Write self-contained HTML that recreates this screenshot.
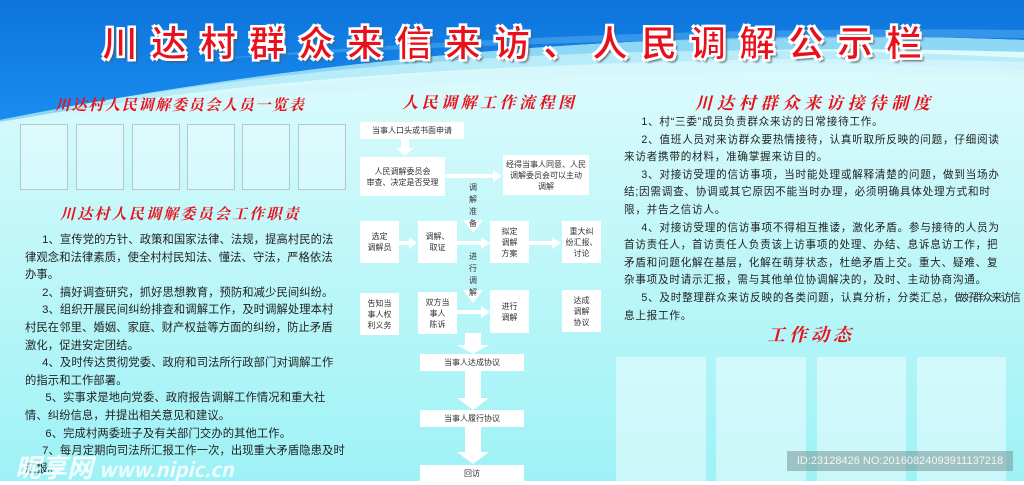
<!DOCTYPE html>
<html><head><meta charset="utf-8"><style>
*{margin:0;padding:0;box-sizing:border-box}
body{width:1024px;height:481px;overflow:hidden;position:relative;font-family:"Liberation Sans","Noto Sans CJK SC",sans-serif;}
.abs{position:absolute}
.title{left:0;top:15px;width:1024px;text-align:center;font-size:36px;font-weight:bold;color:#e8101a;letter-spacing:13px;padding-left:13px;-webkit-text-stroke:1px #fff;text-shadow:2px 2px 0 #fff,-2px -2px 0 #fff,2px -2px 0 #fff,-2px 2px 0 #fff,3px 3px 2px #555;font-family:"Noto Sans CJK SC",sans-serif;}
.h{color:#e8101a;font-family:"Noto Serif CJK SC",serif;font-weight:bold;font-style:italic;white-space:nowrap}
.photo{top:124px;width:48px;height:66px;border:1px solid #b7c6cd;background:rgba(255,255,255,0.25)}
.lt{left:25px;font-size:11.3px;color:#222;white-space:nowrap;line-height:17.6px;letter-spacing:0.1px}
.rt{left:624px;font-size:10.6px;color:#222;white-space:nowrap;line-height:17.6px;letter-spacing:0.75px}
.b{background:#fff;font-size:8px;color:#333;text-align:center;display:flex;align-items:center;justify-content:center;line-height:11px}
.v{font-size:8px;color:#333;width:10px;line-height:12px;text-align:center}
.dyn{top:357px;height:124px;background:rgba(255,255,255,0.45)}
</style></head><body>
<svg class="abs" style="left:0;top:0" width="1024" height="481">
<defs>
<linearGradient id="bg" x1="0" y1="0" x2="0" y2="1"><stop offset="0" stop-color="#e6fcfd"/><stop offset="0.4" stop-color="#c8f8fa"/><stop offset="1" stop-color="#9ef2f6"/></linearGradient>
<linearGradient id="bl" x1="0" y1="0" x2="0" y2="1"><stop offset="0" stop-color="#0d74dc"/><stop offset="1" stop-color="#1a8cf0"/></linearGradient>
</defs>
<rect width="1024" height="481" fill="url(#bg)"/>
<path d="M0 0H1024V40 Q500 20 0 120Z" fill="url(#bl)"/>
<path d="M0 120 Q500 20 1024 40 V52 Q500 35 0 122Z" fill="#8fd8f5"/>
<path d="M60 108 Q500 30 1024 58 V70 Q500 45 80 108Z" fill="#b8ecf8"/>
<path d="M0 122 Q500 45 1024 62 V78 Q600 55 0 125Z" fill="#d5f6fb" opacity="0.8"/>
<path d="M200 60 Q600 25 1024 30 V38 Q600 35 200 60Z" fill="#4ea8ee" opacity="0.6"/>
</svg>
<div class="abs title">川达村群众来信来访、人民调解公示栏</div>

<div class="abs h" style="left:55px;top:94px;font-size:15px;letter-spacing:1.7px">川达村人民调解委员会人员一览表</div>
<div class="abs photo" style="left:20px"></div>
<div class="abs photo" style="left:76px"></div>
<div class="abs photo" style="left:132px"></div>
<div class="abs photo" style="left:187px"></div>
<div class="abs photo" style="left:242px"></div>
<div class="abs photo" style="left:298px"></div>
<div class="abs h" style="left:60px;top:203px;font-size:15px;letter-spacing:2.2px">川达村人民调解委员会工作职责</div>

<div class="abs lt" style="top:232px">&emsp;&ensp;1、宣传党的方针、政策和国家法律、法规，提高村民的法<br>律观念和法律素质，使全村村民知法、懂法、守法，严格依法<br>办事。<br>&emsp;&ensp;2、搞好调查研究，抓好思想教育，预防和减少民间纠纷。<br>&emsp;&ensp;3、组织开展民间纠纷排查和调解工作，及时调解处理本村<br>村民在邻里、婚姻、家庭、财产权益等方面的纠纷，防止矛盾<br>激化，促进安定团结。<br>&emsp;&ensp;4、及时传达贯彻党委、政府和司法所行政部门对调解工作<br>的指示和工作部署。<br>&emsp;&ensp;&nbsp;5、实事求是地向党委、政府报告调解工作情况和重大社<br>情、纠纷信息，并提出相关意见和建议。<br>&emsp;&ensp;&nbsp;6、完成村两委班子及有关部门交办的其他工作。<br>&emsp;&ensp;7、每月定期向司法所汇报工作一次，出现重大矛盾隐患及时<br>汇报。</div>
<div class="abs" style="left:15px;top:448px;font-size:26px;font-weight:bold;font-style:italic;color:rgba(255,255,255,0.85);white-space:nowrap;font-family:'Noto Sans CJK SC',sans-serif">昵享网 <span style="font-size:20px">www.nipic.cn</span></div>

<div class="abs h" style="left:402px;top:90px;font-size:16px;letter-spacing:3.5px">人民调解工作流程图</div>
<svg class="abs" style="left:0;top:0" width="1024" height="481">
<g fill="#fff">
<polygon points="401,139 409,139 409,148 414,148 405,156 396,148 401,148"/>
<rect x="445" y="174" width="48" height="4"/><polygon points="493,170 502,176 493,182"/>
<polygon points="463,220 483,220 473,233"/>
<rect x="399" y="241" width="10" height="4"/><polygon points="409,237 417,243 409,249"/>
<rect x="457" y="241" width="24" height="4"/><polygon points="481,237 490,243 481,249"/>
<rect x="529" y="241" width="23" height="4"/><polygon points="552,237 561,243 552,249"/>
<polygon points="463,290 483,290 473,303"/>
<rect x="457" y="310" width="24" height="4"/><polygon points="481,306 490,312 481,318"/>
<polygon points="465,333 481,333 481,345 489,345 473,354 457,345 465,345"/>
<polygon points="465,371 481,371 481,398 489,398 473,410 457,398 465,398"/>
<polygon points="465,427 481,427 481,452 489,452 473,464 457,452 465,452"/>
</g></svg>
<div class="abs b" style="left:360px;top:122px;width:104px;height:17px">当事人口头或书面申请</div>
<div class="abs b" style="left:360px;top:157px;width:85px;height:39px">人民调解委员会<br>审查、决定是否受理</div>
<div class="abs b" style="left:503px;top:155px;width:86px;height:40px">经得当事人同意、人民<br>调解委员会可以主动<br>调解</div>
<div class="abs v" style="left:468px;top:182px">调<br>解<br>准<br>备</div>
<div class="abs b" style="left:360px;top:221px;width:39px;height:42px">选定<br>调解员</div>
<div class="abs b" style="left:418px;top:221px;width:39px;height:42px">调解、<br>取证</div>
<div class="abs b" style="left:490px;top:221px;width:39px;height:42px">拟定<br>调解<br>方案</div>
<div class="abs b" style="left:562px;top:221px;width:39px;height:42px">重大纠<br>纷汇报、<br>讨论</div>
<div class="abs v" style="left:468px;top:251px">进<br>行<br>调<br>解</div>
<div class="abs b" style="left:360px;top:293px;width:39px;height:42px">告知当<br>事人权<br>利义务</div>
<div class="abs b" style="left:418px;top:292px;width:39px;height:42px">双方当<br>事人<br>陈诉</div>
<div class="abs b" style="left:490px;top:290px;width:39px;height:43px">进行<br>调解</div>
<div class="abs b" style="left:562px;top:290px;width:39px;height:42px">达成<br>调解<br>协议</div>
<div class="abs b" style="left:420px;top:354px;width:104px;height:17px">当事人达成协议</div>
<div class="abs b" style="left:420px;top:410px;width:104px;height:17px">当事人履行协议</div>
<div class="abs b" style="left:420px;top:465px;width:104px;height:17px">回访</div>

<div class="abs h" style="left:695px;top:89px;font-size:17px;letter-spacing:4.8px">川达村群众来访接待制度</div>
<div class="abs rt" style="top:114px">&emsp;&ensp;1、村“三委”成员负责群众来访的日常接待工作。<br>&emsp;&ensp;2、值班人员对来访群众要热情接待，认真听取所反映的问题，仔细阅读<br>来访者携带的材料，准确掌握来访目的。<br>&emsp;&ensp;3、对接访受理的信访事项，当时能处理或解释清楚的问题，做到当场办<br>结;因需调查、协调或其它原因不能当时办理，必须明确具体处理方式和时<br>限，并告之信访人。<br>&emsp;&ensp;4、对接访受理的信访事项不得相互推诿，激化矛盾。参与接待的人员为<br>首访责任人，首访责任人负责该上访事项的处理、办结、息诉息访工作，把<br>矛盾和问题化解在基层，化解在萌芽状态，杜绝矛盾上交。重大、疑难、复<br>杂事项及时请示汇报，需与其他单位协调解决的，及时、主动协商沟通。<br>&emsp;&ensp;5、及时整理群众来访反映的各类问题，认真分析，分类汇总，<span style="letter-spacing:-1.3px">做好群众来访信</span><br>息上报工作。</div>
<div class="abs h" style="left:767px;top:321px;font-size:18px;letter-spacing:4px">工作动态</div>
<div class="abs dyn" style="left:616px;width:90px"></div>
<div class="abs dyn" style="left:716px;width:90px"></div>
<div class="abs dyn" style="left:817px;width:89px"></div>
<div class="abs dyn" style="left:917px;width:89px"></div>
<div class="abs" style="left:787px;top:451px;width:226px;height:20px;background:rgba(120,150,150,0.55);color:#f4f4f4;font-size:11px;line-height:20px;text-align:center;white-space:nowrap">ID:23128426 NO:20160824093911137218</div>
</body></html>
